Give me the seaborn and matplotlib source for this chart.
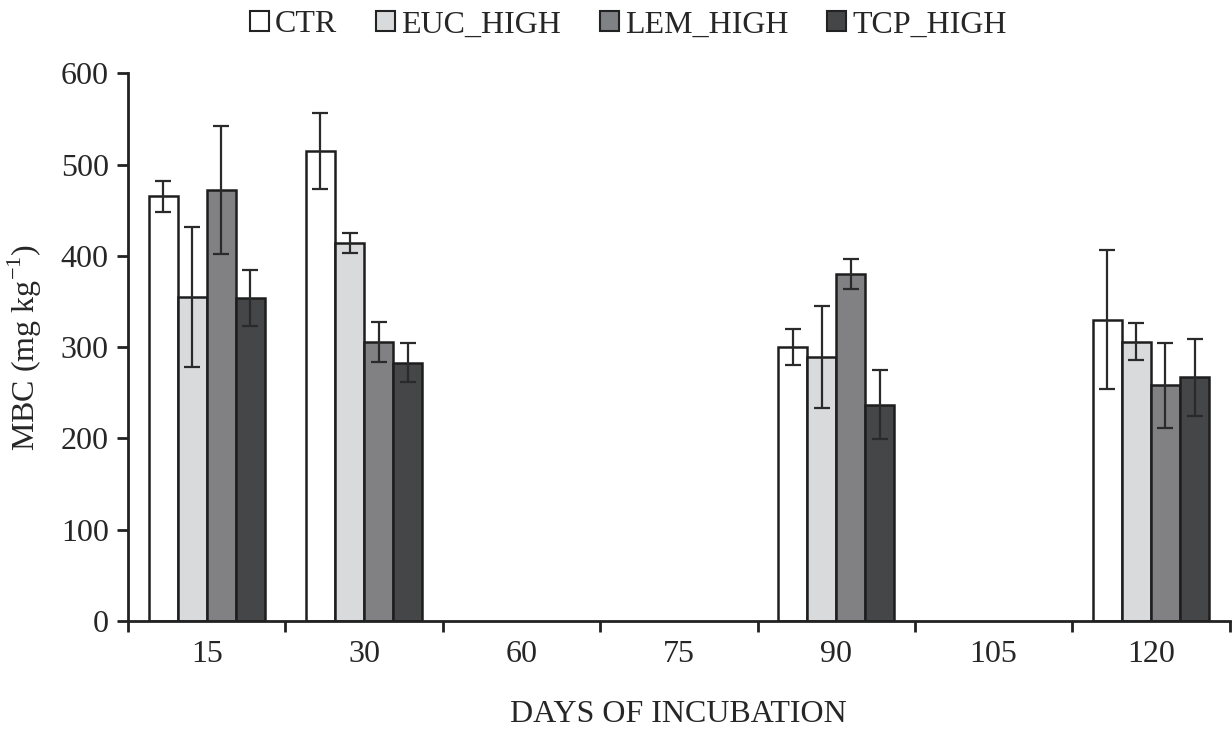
import numpy as np
import pandas as pd
import matplotlib
matplotlib.use("Agg")
import matplotlib.pyplot as plt
import seaborn as sns
from matplotlib.patches import Patch

days = ["15", "30", "60", "75", "90", "105", "120"]
treatments = ["CTR", "EUC_HIGH", "LEM_HIGH", "TCP_HIGH"]
sampled_days = ["15", "30", "90", "120"]

# means and standard errors per treatment, at the sampled days
ctr_mean = [465, 515, 300, 330]
euc_mean = [355, 414, 289, 306]
lem_mean = [472, 306, 380, 258]
tcp_mean = [354, 283, 237, 267]

ctr_err = [17, 42, 20, 76]
euc_err = [77, 11, 56, 20]
lem_err = [70, 22, 16, 47]
tcp_err = [31, 21, 38, 42]

colors = ["#ffffff", "#d9dadc", "#808184", "#454648"]

means = {"CTR": ctr_mean, "EUC_HIGH": euc_mean, "LEM_HIGH": lem_mean, "TCP_HIGH": tcp_mean}
errs = {"CTR": ctr_err, "EUC_HIGH": euc_err, "LEM_HIGH": lem_err, "TCP_HIGH": tcp_err}

rows = []
for t in treatments:
    for d, m, e in zip(sampled_days, means[t], errs[t]):
        rows.append({"day": d, "treatment": t, "mbc": m, "se": e})
df = pd.DataFrame(rows)

sns.set_style("white")
plt.rcParams["font.family"] = ["Liberation Serif", "DejaVu Serif"]
plt.rcParams["mathtext.fontset"] = "custom"
plt.rcParams["mathtext.rm"] = "Liberation Serif"

fig = plt.figure(figsize=(12.32, 7.33), dpi=100)
ax = fig.add_axes([0.104, 0.153, 0.894, 0.747])

sns.barplot(data=df, x="day", y="mbc", hue="treatment", order=days,
            hue_order=treatments, palette=colors, errorbar=None,
            width=0.74, edgecolor="#1e1e1e", linewidth=1.8, legend=False, ax=ax)

# error bars, matched to the bars seaborn drew
for t, cont in zip(treatments, ax.containers):
    for bar in cont:
        xc = bar.get_x() + bar.get_width() / 2
        d = days[int(round(xc))]
        row = df[(df.treatment == t) & (df.day == d)]
        if row.empty:
            continue
        ax.errorbar(xc, row.mbc.iloc[0], yerr=row.se.iloc[0], fmt="none",
                    ecolor="#2a2a2a", elinewidth=1.6, capsize=6, capthick=1.6)

ax.set_xlim(-0.5, len(days) - 0.5)
ax.set_ylim(0, 600)
ax.set_yticks(np.arange(0, 601, 100))
ax.set_xticks(np.arange(len(days)))
ax.set_xticklabels(days)
ax.set_xticks(np.arange(len(days) + 1) - 0.5, minor=True)

for s in ["top", "right"]:
    ax.spines[s].set_visible(False)
for s in ["left", "bottom"]:
    ax.spines[s].set_linewidth(2)
    ax.spines[s].set_color("#222222")

ax.tick_params(axis="y", which="major", direction="out", length=8, width=2,
               color="#222222", labelsize=23, pad=6, left=True)
ax.tick_params(axis="x", which="major", length=0, labelsize=23, pad=14)
ax.tick_params(axis="x", which="minor", direction="out", length=8, width=2,
               color="#222222", bottom=True)

ax.set_xlabel("DAYS OF INCUBATION", fontsize=23, labelpad=22)
ax.set_ylabel("MBC (mg kg$^{-1}$)", fontsize=23, labelpad=12)

handles = [Patch(facecolor=c, edgecolor="#222222", linewidth=1.5) for c in colors]
fig.legend(handles, treatments, loc="upper center", bbox_to_anchor=(0.51, 1.025),
           ncol=4, frameon=False, fontsize=23, handlelength=0.6, handleheight=0.6,
           handletextpad=0.2, columnspacing=1.2)

fig.savefig("out.png", dpi=100)
